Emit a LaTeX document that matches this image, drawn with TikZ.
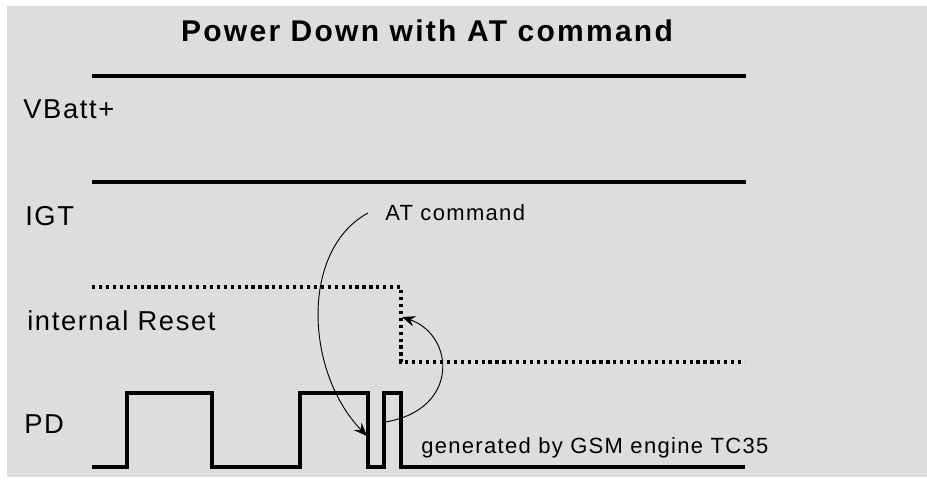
\documentclass[tikz,border=0pt]{standalone}
\usepackage{fontspec}
\setmainfont{Liberation Sans}
\usepackage{tikz}
\usetikzlibrary{arrows.meta}
\definecolor{panelgray}{RGB}{221,221,221}
\newcommand{\sigfont}{\fontsize{20.5}{24}\selectfont\addfontfeature{LetterSpace=6}}
\newcommand{\notefont}{\fontsize{16.5}{20}\selectfont\addfontfeature{LetterSpace=6}}

\begin{document}
\begin{tikzpicture}[x=0.75pt,y=-0.75pt,
    signal/.style={line width=2.3pt},
    resetline/.style={line width=2.4pt,dash pattern=on 2.4pt off 2.8pt},
    cause/.style={line width=0.7pt,-{Stealth[length=10pt,width=8pt,inset=3.5pt]}},
    lbl/.style={anchor=base west,inner sep=0pt}]
  \useasboundingbox (0,0) rectangle (927,482);
  \fill[panelgray] (7,6) rectangle (927,477);
  \node[anchor=base,inner sep=0pt,font=\fontsize{22.5}{26}\selectfont\bfseries\addfontfeature{LetterSpace=7.5}] (title) at (427,41){Power Down with AT command};
  % supply and ignition
  \draw[signal] (92,76)--(746,76);  \node[lbl,font=\sigfont] (vbatt) at (23,118){VBatt+};
  \draw[signal] (92,182)--(746,182); \node[lbl,font=\sigfont] (igt) at (25,225){IGT};
  % internal reset
  \draw[resetline] (92,287)--(401,287)--(401,362)--(745,362);
  \node[lbl,font=\sigfont] (reset) at (27,330){internal Reset};
  % PD pulses
  \draw[signal] (92,467)--(127,467)--(127,393)--(212,393)--(212,467)--(300,467)--(300,393)--(368,393)--(368,467)--(384,467)--(384,393)--(401,393)--(401,467)--(745,467);
  \node[lbl,font=\sigfont] (pd) at (24,433){PD};
  \node[lbl,font=\notefont] (atcmd) at (385,220){AT command};
  \node[lbl,font=\notefont] (gsm) at (421,453){generated by GSM engine TC35};
  \coordinate (cmdstart) at (368,213);
  \coordinate (pdfall) at (367,436);
  \coordinate (pdpulse) at (385,422);
  \coordinate (resetfall) at (402,317);
  \draw[cause] (cmdstart) .. controls (300,250) and (305,372) .. (pdfall);
  \draw[cause] (pdpulse) .. controls (460,410) and (455,335) .. (resetfall);
\end{tikzpicture}
\end{document}
